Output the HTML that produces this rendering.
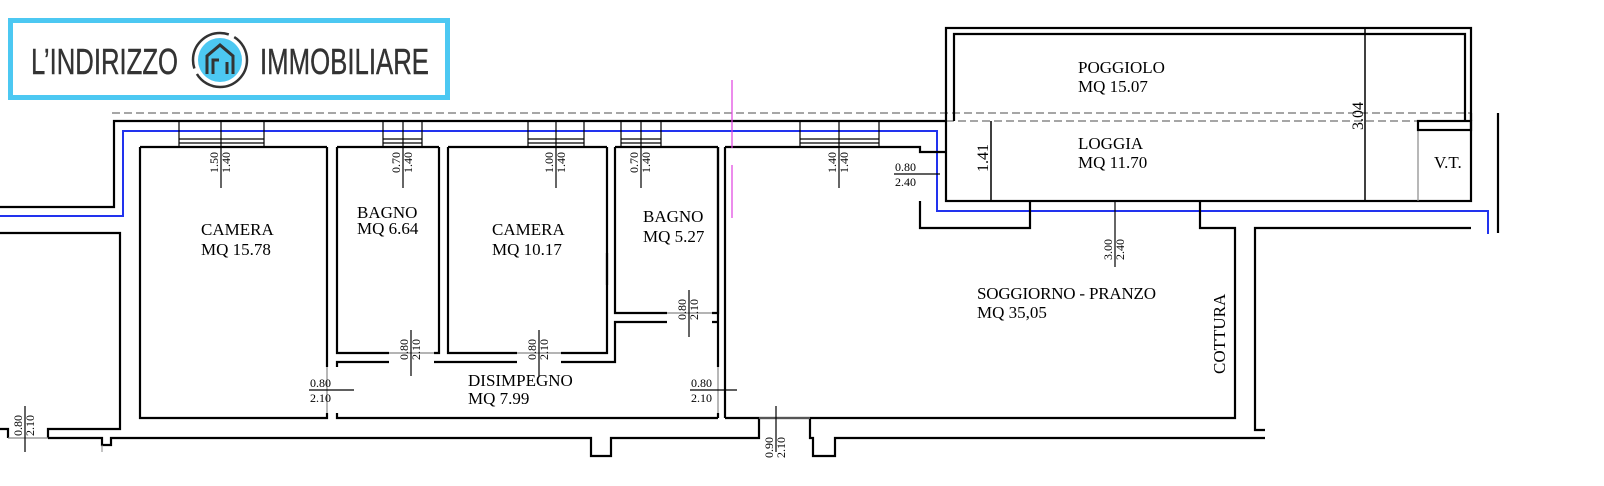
<!DOCTYPE html>
<html><head><meta charset="utf-8"><style>
html,body{margin:0;padding:0;background:#fff;}
svg{display:block;}
text{font-family:"Liberation Serif",serif;fill:#000;}
.t{font-size:17px;}
.d{font-size:12px;}
.w{stroke:#000;stroke-width:2.2;fill:none;}
.g{stroke:#888;stroke-width:1.2;fill:none;}
</style></head><body>
<svg width="1604" height="486" viewBox="0 0 1604 486" xmlns="http://www.w3.org/2000/svg">
<rect x="10.5" y="20.5" width="437" height="77" fill="#fff" stroke="#4cc8f2" stroke-width="5"/>
<text x="31" y="74" style="font-family:'Liberation Sans',sans-serif;font-size:36px;fill:#333;stroke:#333;stroke-width:0.4" textLength="147" lengthAdjust="spacingAndGlyphs">L’INDIRIZZO</text>
<text x="260" y="74" style="font-family:'Liberation Sans',sans-serif;font-size:36px;fill:#333;stroke:#333;stroke-width:0.4" textLength="169" lengthAdjust="spacingAndGlyphs">IMMOBILIARE</text>
<circle cx="220" cy="60" r="27" fill="none" stroke="#333" stroke-width="2.5" stroke-dasharray="70 6 60 6"/>
<circle cx="220" cy="60" r="22" fill="#4cc8f2"/>
<path d="M207 74 V56 L220 45 L233 56 V74 M213 74 V60 H219 M227 74 V62" fill="none" stroke="#333" stroke-width="3"/>

<line x1="112" y1="113" x2="1471" y2="113" stroke="#888" stroke-width="1.5" stroke-dasharray="8 4"/>
<line x1="946" y1="121" x2="1471" y2="121" stroke="#888" stroke-width="1.5" stroke-dasharray="8 4"/>

<path d="M0 216 H123 V131 H937 V211 H1488 V234" fill="none" stroke="#2233ee" stroke-width="2"/>

<path class="w" d="M0 207 H114 V121 H946"/>
<path class="w" d="M0 233 H120 V429 H48 V438"/>
<path class="w" d="M0 429 H8 V438"/>
<path class="w" d="M48 438 H102 V445 H111 V438 H591 V456 H611 V438 H759 V418"/>
<line x1="102" y1="445" x2="102" y2="452" stroke="#888" stroke-width="1"/>
<path class="w" d="M810 418 V438 H813 V456 H835 V438 H1265"/>
<path class="w" d="M725 418 H1235 V228 H1200 V201"/>
<path class="w" d="M1265 430 H1255 V228 H1471"/>
<path class="w" d="M920 201 V228 H1030 V201"/>
<path class="w" d="M1498 113 V233"/>
<path class="w" d="M1471 113 V121"/>
<path class="w" d="M140 147 H327 M337 147 H439 M448 147 H607 M615 147 H718 M725 147 H920 V152 H946"/>

<rect x="946" y="28" width="525" height="173" class="w"/>
<path class="w" d="M954 121 V34 H1465 V121"/>
<line x1="1365" y1="28" x2="1365" y2="201" stroke="#000" stroke-width="1.5"/>
<line x1="991" y1="121" x2="991" y2="201" stroke="#000" stroke-width="1.5"/>
<path d="M1418 201 V121" stroke="#888" stroke-width="1.2"/>
<rect x="1418" y="121" width="53" height="9" class="w" stroke-width="1.5"/>

<g stroke="#000" stroke-width="1.2" fill="none">
<path d="M179 121 V147 M264 121 V147 M179 139 H264 M179 143 H264"/>
<path d="M383 121 V147 M422 121 V147 M383 139 H422 M383 143 H422"/>
<path d="M528 121 V147 M584 121 V147 M528 139 H584 M528 143 H584"/>
<path d="M621 121 V147 M661 121 V147 M621 139 H661 M621 143 H661"/>
<path d="M800 121 V147 M879 121 V147 M800 139 H879 M800 143 H879"/>
</g>

<path class="w" d="M327 367 V147 M140 147 V418 H327 V413"/>
<path class="w" d="M337 147 V353 H389 M434 353 H439 V147"/>
<path class="w" d="M448 147 V353 H517 M561 353 H607 V147"/>
<path class="w" d="M615 147 V313 H667 M712 313 H718 V147"/>
<path class="w" d="M607 253 V285" stroke="#fff" stroke-width="3"/>
<path class="w" d="M718 147 V367 M725 147 V418 M718 413 V418"/>
<path class="w" d="M337 367 V362 H389 M434 362 H517 M561 362 H615 V322 H667 M712 322 H718"/>
<path class="w" d="M337 413 V418 H718"/>
<path class="g" d="M327 367 V413 M718 367 V413 M389 353 H434 M517 353 H561 M667 313 H712 M8 438 H48 M759 418 H810"/>

<path d="M732 80 V148 M732 165 V218" stroke="#e040e0" stroke-width="1.2"/>

<g stroke="#000" stroke-width="1.2">
<line x1="221" y1="121" x2="221" y2="188"/>
<line x1="403" y1="121" x2="403" y2="188"/>
<line x1="556" y1="121" x2="556" y2="188"/>
<line x1="641" y1="121" x2="641" y2="188"/>
<line x1="839" y1="121" x2="839" y2="188"/>
<line x1="1115" y1="201" x2="1115" y2="267"/>
<line x1="689" y1="290" x2="689" y2="337"/>
<line x1="411" y1="330" x2="411" y2="376"/>
<line x1="539" y1="330" x2="539" y2="376"/>
<line x1="25" y1="406" x2="25" y2="452"/>
<line x1="776" y1="406" x2="776" y2="452"/>
<line x1="309" y1="390" x2="354" y2="390"/>
<line x1="690" y1="390" x2="737" y2="390"/>
<line x1="894" y1="174" x2="940" y2="174"/>
</g>
<g>
<text class="d" transform="translate(218,173) rotate(-90)">1.50</text>
<text class="d" transform="translate(230,173) rotate(-90)">1.40</text>
<text class="d" transform="translate(400,173) rotate(-90)">0.70</text>
<text class="d" transform="translate(412,173) rotate(-90)">1.40</text>
<text class="d" transform="translate(553,173) rotate(-90)">1.00</text>
<text class="d" transform="translate(565,173) rotate(-90)">1.40</text>
<text class="d" transform="translate(638,173) rotate(-90)">0.70</text>
<text class="d" transform="translate(650,173) rotate(-90)">1.40</text>
<text class="d" transform="translate(836,173) rotate(-90)">1.40</text>
<text class="d" transform="translate(848,173) rotate(-90)">1.40</text>
<text class="d" transform="translate(1112,260) rotate(-90)">3.00</text>
<text class="d" transform="translate(1124,260) rotate(-90)">2.40</text>
<text class="d" transform="translate(686,320) rotate(-90)">0.80</text>
<text class="d" transform="translate(698,320) rotate(-90)">2.10</text>
<text class="d" transform="translate(408,360) rotate(-90)">0.80</text>
<text class="d" transform="translate(420,360) rotate(-90)">2.10</text>
<text class="d" transform="translate(536,360) rotate(-90)">0.80</text>
<text class="d" transform="translate(548,360) rotate(-90)">2.10</text>
<text class="d" transform="translate(22,436) rotate(-90)">0.80</text>
<text class="d" transform="translate(34,436) rotate(-90)">2.10</text>
<text class="d" transform="translate(773,458) rotate(-90)">0.90</text>
<text class="d" transform="translate(785,458) rotate(-90)">2.10</text>
<text class="d" x="310" y="387">0.80</text>
<text class="d" x="310" y="402">2.10</text>
<text class="d" x="691" y="387">0.80</text>
<text class="d" x="691" y="402">2.10</text>
<text class="d" x="895" y="171">0.80</text>
<text class="d" x="895" y="186">2.40</text>
<text style="font-size:16px" transform="translate(988,172) rotate(-90)">1.41</text>
<text style="font-size:16px" transform="translate(1363,130) rotate(-90)">3.04</text>
</g>

<text class="t" x="201" y="235">CAMERA</text>
<text class="t" x="201" y="255">MQ 15.78</text>
<text class="t" x="357" y="218">BAGNO</text>
<text class="t" x="357" y="234">MQ 6.64</text>
<text class="t" x="492" y="235">CAMERA</text>
<text class="t" x="492" y="255">MQ 10.17</text>
<text class="t" x="643" y="222">BAGNO</text>
<text class="t" x="643" y="242">MQ 5.27</text>
<text class="t" x="468" y="386">DISIMPEGNO</text>
<text class="t" x="468" y="404">MQ 7.99</text>
<text class="t" x="1078" y="73">POGGIOLO</text>
<text class="t" x="1078" y="92">MQ 15.07</text>
<text class="t" x="1078" y="149">LOGGIA</text>
<text class="t" x="1078" y="168">MQ 11.70</text>
<text class="t" x="1434" y="168">V.T.</text>
<text class="t" x="977" y="299" textLength="179">SOGGIORNO - PRANZO</text>
<text class="t" x="977" y="318">MQ 35,05</text>
<text class="t" transform="translate(1225,374) rotate(-90)">COTTURA</text>
</svg>
</body></html>
